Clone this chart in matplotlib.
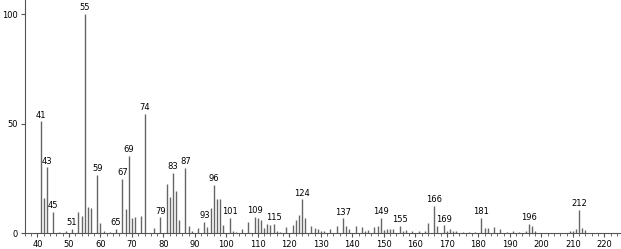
import matplotlib
matplotlib.use("Agg")
import matplotlib.pyplot as plt
from matplotlib.ticker import MultipleLocator

# m/z and relative intensity
mz = [41, 42, 43, 45, 47, 49, 51, 53, 54, 55, 56, 57, 59, 60, 61, 63, 65,
      67, 68, 69, 70, 71, 73, 74, 77, 79, 81, 82, 83, 84, 85, 87, 88, 89,
      91, 93, 94, 95, 96, 97, 98, 99, 101, 102, 103, 105, 107, 109, 110,
      111, 112, 113, 114, 115, 116, 117, 119, 121, 122, 123, 124, 125, 127,
      128, 129, 130, 131, 133, 135, 137, 138, 139, 141, 143, 144, 145, 147,
      148, 149, 150, 151, 152, 153, 155, 156, 157, 159, 161, 163, 164, 166,
      167, 169, 170, 171, 172, 173, 175, 177, 179, 181, 182, 183, 185, 187,
      189, 191, 193, 195, 196, 197, 198, 209, 210, 211, 212, 213, 214]
intensity = [51, 15.8, 30, 9.6, 0.5, 1, 1.8, 9.7, 7.9, 100, 11.9, 11.6, 26.5,
             4.4, 1, 0.6, 1.8, 24.7, 11.1, 35.3, 6.7, 7.5, 7.9, 54.3, 2.4,
             7.2, 22.2, 16.6, 27.4, 19.2, 5.9, 29.7, 3.3, 1, 2.3, 5, 2.9,
             11.3, 21.9, 15.5, 15.4, 3.7, 7, 1, 0.5, 1.7, 5, 7.5, 6.8, 5.9,
             2.3, 4.1, 3.5, 4.1, 1, 0.5, 2.9, 3.7, 5.9, 8.2, 15.4, 7, 3.2,
             2.1, 1.8, 1, 0.8, 2, 3.3, 6.7, 3.2, 2, 3.2, 2.6, 1, 1.4, 2.7,
             3.2, 7, 1.4, 2, 1.7, 1.7, 3.2, 1, 1.4, 1, 1, 1, 4.4, 12.3, 3.2,
             3.5, 1, 1.7, 1, 1, 0.5, 0.5, 0.5, 6.8, 2.1, 2.4, 2.9, 1.7, 0.5,
             0.8, 0.5, 0.8, 4.1, 3, 1, 0.8, 1, 1.7, 10.5, 2.3, 1.4]

labeled = [41, 43, 45, 51, 55, 59, 65, 67, 69, 74, 79, 83, 87, 93, 96, 101,
           109, 115, 124, 137, 149, 155, 166, 169, 181, 196, 212]

fig = plt.figure(figsize=(6.21, 2.49), dpi=100)
ax = fig.add_axes([0.04, 0.064, 0.96, 0.936])

ax.vlines(mz, 0, intensity, colors="#666666", linewidth=1.0)

lookup = dict(zip(mz, intensity))
for m in labeled:
    ax.text(m, lookup[m] + 0.8, str(m), ha="center", va="bottom",
            fontsize=6, color="black")

ax.set_xlim(36, 225.3)
ax.set_ylim(0, 106.4)
ax.xaxis.set_minor_locator(MultipleLocator(2))
ax.set_xticks(range(40, 221, 10))
ax.set_yticks([0, 50, 100])

ax.tick_params(axis="both", which="major", labelsize=6, length=3,
               width=0.8, color="#555555", pad=2)
ax.tick_params(axis="x", which="minor", length=2, width=0.6, color="#555555")
ax.spines["top"].set_visible(False)
ax.spines["right"].set_visible(False)
for s in ["left", "bottom"]:
    ax.spines[s].set_color("#555555")
    ax.spines[s].set_linewidth(0.8)

fig.savefig("out.png", dpi=100)
